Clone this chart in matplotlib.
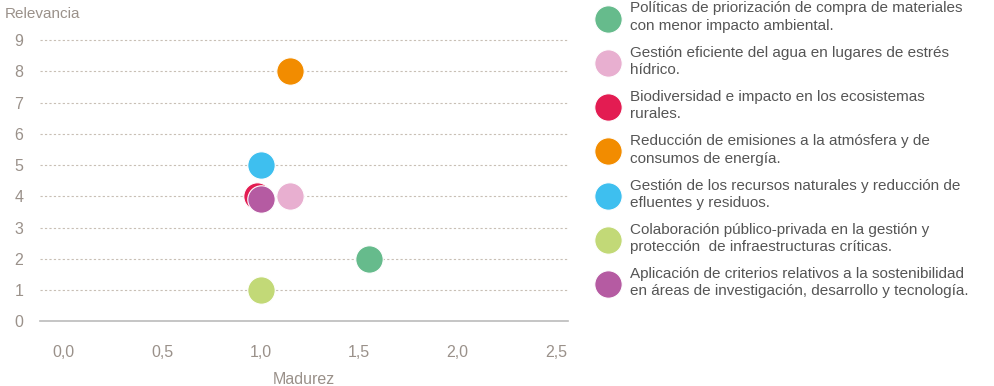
import matplotlib.pyplot as plt

# values
labels = [
    'Políticas de priorización de compra de materiales\ncon menor impacto ambiental.',
    'Gestión eficiente del agua en lugares de estrés\nhídrico.',
    'Biodiversidad e impacto en los ecosistemas\nrurales.',
    'Reducción de emisiones a la atmósfera y de\nconsumos de energía.',
    'Gestión de los recursos naturales y reducción de\nefluentes y residuos.',
    'Colaboración público-privada en la gestión y\nprotección  de infraestructuras críticas.',
    'Aplicación de criterios relativos a la sostenibilidad\nen áreas de investigación, desarrollo y tecnología.',
]
madurez = [1.55, 1.15, 0.98, 1.15, 1.0, 1.0, 1.0]
relevancia = [2, 4, 4, 8, 5, 1, 3.9]
colors = ['#66bb8c', '#e8afd0', '#e31c52', '#f28c00', '#3ebfef', '#c2d977', '#b55ba2']

x_ticks = [0, 0.5, 1.0, 1.5, 2.0, 2.5]
y_ticks = list(range(10))

plt.rcParams['font.family'] = ['Liberation Sans', 'DejaVu Sans']
txt = '#9a918a'

fig = plt.figure(figsize=(9.95, 3.86), dpi=100)
ax = fig.add_axes([0.040, 0.168, 0.531, 0.752])

for xi, yi, c, lab in zip(madurez, relevancia, colors, labels):
    ax.scatter(xi, yi, s=390, color=c, edgecolor='white', linewidth=0.8,
               label=lab, zorder=3)

ax.set_xlim(-0.12, 2.56)
ax.set_ylim(0, 9.3)
ax.set_xticks(x_ticks)
ax.set_xticklabels([('%.1f' % v).replace('.', ',') for v in x_ticks])
ax.set_yticks(y_ticks)
ax.tick_params(length=0, labelsize=11.5, labelcolor=txt)
ax.tick_params(axis='x', pad=17)
ax.tick_params(axis='y', pad=12)
for k in ['top', 'right', 'left']:
    ax.spines[k].set_visible(False)
ax.spines['bottom'].set_color('#bbbbbb')
ax.spines['bottom'].set_linewidth(1.2)
for yv in y_ticks[1:]:
    ax.axhline(yv, color='#c8bfb5', lw=0.8, ls=(0, (2, 2)), zorder=1)

ax.set_xlabel('Madurez', fontsize=11.5, color=txt, labelpad=9)
fig.text(0.005, 0.963, 'Relevancia', fontsize=11, color=txt, va='center')

leg = fig.legend(loc='upper left', bbox_to_anchor=(0.590, 1.012), frameon=False,
                 fontsize=11, labelcolor='#555555', labelspacing=0.85,
                 handletextpad=0.4, borderaxespad=0)
for t in leg.get_texts():
    t.set_linespacing(1.3)

fig.savefig('out.png', dpi=100)
